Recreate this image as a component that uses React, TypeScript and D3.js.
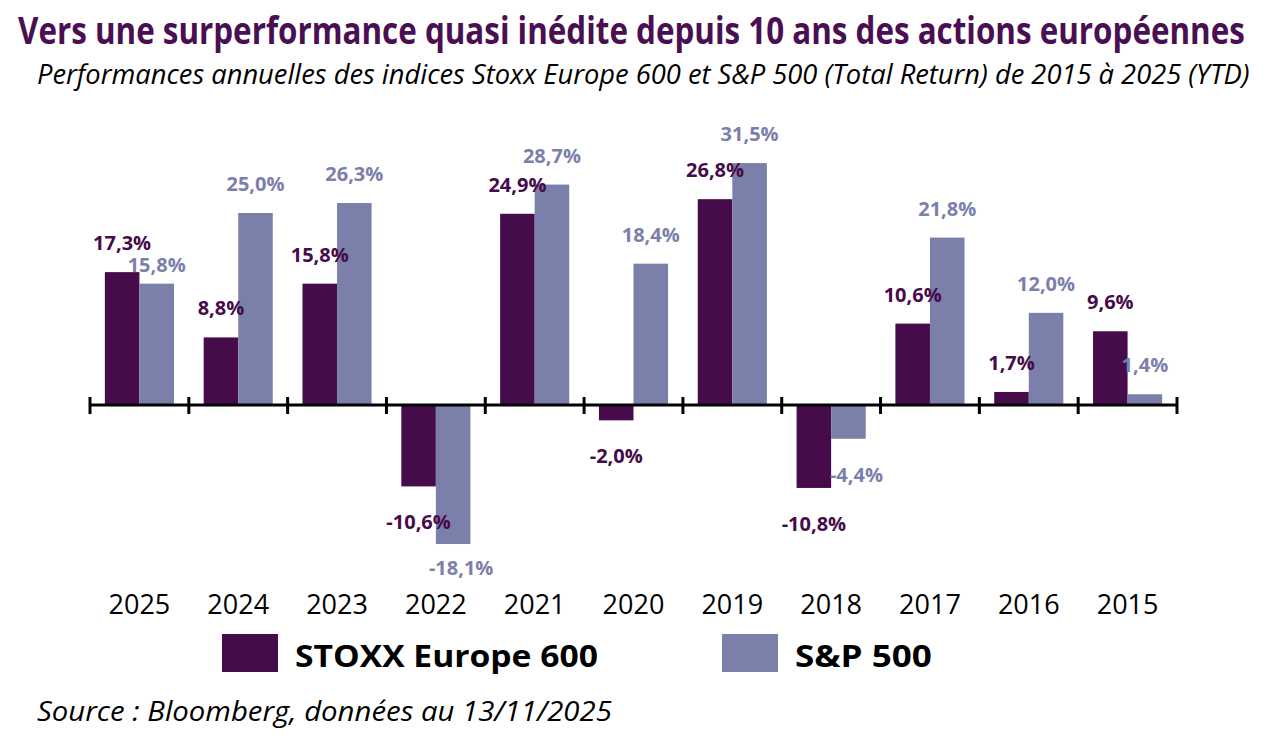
import React, { useEffect, useLayoutEffect, useRef } from 'react'
import * as d3 from 'd3'

const years = ['2025', '2024', '2023', '2022', '2021', '2020', '2019', '2018', '2017', '2016', '2015']
const stoxx = [17.3, 8.8, 15.8, -10.6, 24.9, -2.0, 26.8, -10.8, 10.6, 1.7, 9.6]
const spx = [15.8, 25.0, 26.3, -18.1, 28.7, 18.4, 31.5, -4.4, 21.8, 12.0, 1.4]
const seriesNames = ['STOXX Europe 600', 'S&P 500']
const seriesColors = ['#460b4a', '#7b80ab']

const title = 'Vers une surperformance quasi inédite depuis 10 ans des actions européennes'
const subtitle = 'Performances annuelles des indices Stoxx Europe 600 et S&P 500 (Total Return) de 2015 à 2025 (YTD)'
const source = 'Source : Bloomberg, données au 13/11/2025'

const W = 1272
const H = 740
const FONT = '"Open Sans", "DejaVu Sans", sans-serif'

const fmt = (v: number) => v.toFixed(1).replace('.', ',') + '%'

// text squeezed horizontally to a given width (the original uses a narrower font)
function FitText({ x, y, width, children, ...rest }: any) {
  const ref = useRef<SVGTextElement>(null)
  useLayoutEffect(() => {
    const el = ref.current
    if (!el) return
    const len = el.getComputedTextLength()
    const k = len > 0 ? width / len : 1
    el.setAttribute('transform', `translate(${x},${y}) scale(${k},1)`)
  }, [x, y, width, children])
  return (
    <text ref={ref} x={0} y={0} transform={`translate(${x},${y})`} {...rest}>{children}</text>
  )
}

export default function App() {
  useEffect(() => {
    document.body.style.margin = '0'
  }, [])

  const x0 = d3.scaleBand<string>().domain(years).range([90, 1177]).padding(0)
  const x1 = d3.scaleBand<string>().domain(seriesNames).range([0, x0.bandwidth()]).paddingInner(0).paddingOuter(0.43)
  const y = d3.scaleLinear().domain([-20, 35]).range([558.6, 136.2])
  const y0 = y(0)

  const series = [stoxx, spx]

  // label baseline for each bar
  const labelY = (v: number) => (v >= 0 ? y(v) - 22 : Math.min(y(v) + 43, 575))

  const tickXs = years.map(yr => x0(yr)!).concat([x0.range()[1]])

  return (
    <svg width={W} height={H} style={{ display: 'block', background: '#fff' }}>
      <FitText x={18} y={44} width={1227} fontFamily={FONT} fontWeight={700} fontSize={37} fill="#4a0e52">{title}</FitText>
      <FitText x={37} y={84} width={1213} fontFamily={FONT} fontStyle="italic" fontSize={27} fill="#000">{subtitle}</FitText>

      {years.map((yr, i) => (
        <g key={yr} transform={`translate(${x0(yr)},0)`}>
          {series.map((vals, s) => {
            const v = vals[i]
            const bx = x1(seriesNames[s])!
            return (
              <rect key={s} x={bx} width={x1.bandwidth()} y={Math.min(y(v), y0)}
                height={Math.abs(y(v) - y0)} fill={seriesColors[s]} />
            )
          })}
        </g>
      ))}

      <line x1={tickXs[0]} x2={tickXs[tickXs.length - 1]} y1={y0} y2={y0} stroke="#000" strokeWidth={3} />
      {tickXs.map((tx, i) => (
        <line key={i} x1={tx} x2={tx} y1={y0 - 8} y2={y0 + 9} stroke="#000" strokeWidth={3} />
      ))}

      {years.map((yr, i) => {
        const ly0 = labelY(stoxx[i])
        let ly1 = labelY(spx[i])
        // keep the two labels of a group from sitting on top of each other
        if (stoxx[i] >= 0 && spx[i] >= 0 && Math.abs(ly1 - ly0) < 22 && ly1 > ly0) ly1 = ly0 + 22
        const ys = [ly0, ly1]
        return (
          <g key={yr} transform={`translate(${x0(yr)},0)`}>
            {series.map((vals, s) => (
              <text key={s} x={x1(seriesNames[s])! + x1.bandwidth() / 2 + (s === 1 && vals[i] < 0 ? 8 : 0)}
                y={ys[s]} textAnchor="middle" fontFamily={FONT} fontWeight={700} fontSize={20}
                fill={seriesColors[s]}>{fmt(vals[i])}</text>
            ))}
          </g>
        )
      })}

      {years.map(yr => (
        <text key={yr} x={x0(yr)! + x0.bandwidth() / 2} y={614} textAnchor="middle"
          fontFamily={FONT} fontSize={27} fill="#000">{yr}</text>
      ))}

      {seriesNames.map((name, s) => {
        const lx = 222 + s * 500
        return (
          <g key={name}>
            <rect x={lx} y={634} width={56} height={38} fill={seriesColors[s]} />
            <FitText x={lx + 73} y={667} width={s === 0 ? 303 : 137} fontFamily={FONT} fontWeight={700}
              fontSize={31} fill="#000">{name}</FitText>
          </g>
        )
      })}

      <FitText x={37} y={721} width={575} fontFamily={FONT} fontStyle="italic" fontSize={27} fill="#000">{source}</FitText>
    </svg>
  )
}
